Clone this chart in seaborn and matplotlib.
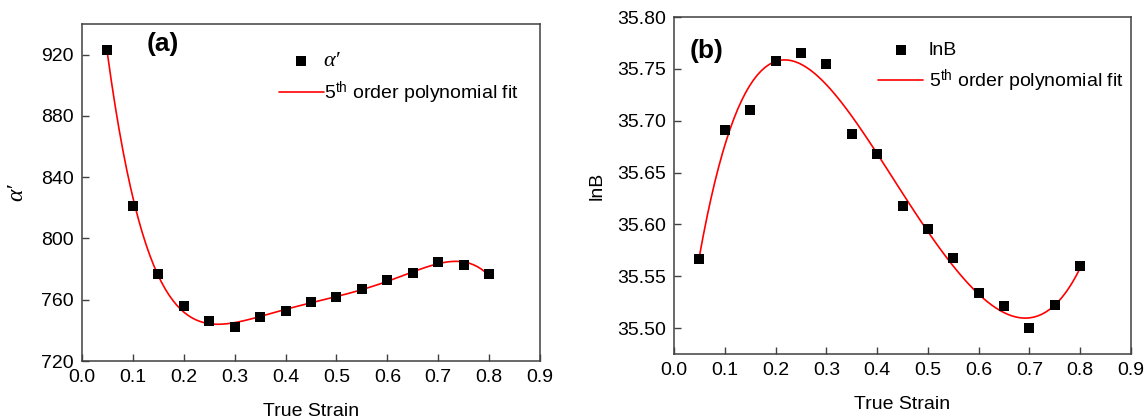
import numpy as np
import pandas as pd
import matplotlib
matplotlib.use("Agg")
import matplotlib.pyplot as plt
import seaborn as sns

strain = [0.05, 0.10, 0.15, 0.20, 0.25, 0.30, 0.35, 0.40, 0.45, 0.50,
          0.55, 0.60, 0.65, 0.70, 0.75, 0.80]
alpha_vals = [923.0, 821.0, 776.7, 756.0, 745.8, 741.9, 749.0, 752.5, 758.4,
              762.1, 767.1, 773.0, 777.6, 784.6, 782.4, 776.7]
lnB_vals = [35.567, 35.691, 35.710, 35.758, 35.765, 35.755, 35.687, 35.6675,
            35.618, 35.596, 35.568, 35.534, 35.521, 35.500, 35.522, 35.560]

x_ticks = [0.0, 0.1, 0.2, 0.3, 0.4, 0.5, 0.6, 0.7, 0.8, 0.9]
a_yticks = [720, 760, 800, 840, 880, 920]
b_yticks = [35.50, 35.55, 35.60, 35.65, 35.70, 35.75, 35.80]

sns.set_theme(style="white")
plt.rcParams['font.family'] = ['Liberation Sans', 'DejaVu Sans']
plt.rcParams['mathtext.fontset'] = 'custom'
plt.rcParams['mathtext.rm'] = 'Liberation Sans'
plt.rcParams['mathtext.it'] = 'Liberation Serif:italic'
plt.rcParams['text.color'] = 'black'
plt.rcParams['axes.labelcolor'] = 'black'

df = pd.DataFrame({"strain": strain, "alpha": alpha_vals, "lnB": lnB_vals})

fig = plt.figure(figsize=(11.48, 4.19), dpi=100)
axA = fig.add_axes([82/1148, 58/419, 458/1148, 337/419])
axB = fig.add_axes([674/1148, 65/419, 457/1148, 337/419])

spine_col = '#404040'
fit_label = r"$5^{\mathrm{th}}$ order polynomial fit"

def style(ax, yt, ylim, yfmt):
    ax.set_xlim(0, 0.9)
    ax.set_ylim(*ylim)
    ax.set_xticks(x_ticks)
    ax.set_xticklabels([f"{v:.1f}" for v in x_ticks])
    ax.set_yticks(yt)
    ax.set_yticklabels([yfmt.format(v) for v in yt])
    for s in ax.spines.values():
        s.set_visible(True)
        s.set_color(spine_col)
        s.set_linewidth(1.1)
    ax.tick_params(axis='both', direction='in', length=5, width=1.0,
                   color=spine_col, labelsize=14, labelcolor='black',
                   bottom=True, left=True, top=False, right=False, pad=6)

for ax, col, lab, yt, ylim, yfmt in [
        (axA, "alpha", "α′", a_yticks, (720, 940), "{:d}"),
        (axB, "lnB", "lnB", b_yticks, (35.475, 35.80), "{:.2f}")]:
    sns.scatterplot(data=df, x="strain", y=col, marker='s', color='black',
                    s=55, edgecolor='black', linewidth=0, label=lab, ax=ax,
                    zorder=3)
    sns.regplot(data=df, x="strain", y=col, order=5, ci=None, scatter=False,
                truncate=True, color='red', ax=ax, label=fit_label,
                line_kws={'linewidth': 1.2, 'zorder': 2})
    style(ax, yt, ylim, yfmt)
    ax.set_xlabel("True Strain", fontsize=14, labelpad=12)

axA.set_ylabel("α′", fontsize=17, family='Liberation Serif', style='italic',
               labelpad=10)
axB.set_ylabel("lnB", fontsize=14, labelpad=8)

legA = axA.legend(loc='upper left', bbox_to_anchor=(0.413, 0.94), frameon=False,
                  fontsize=14, handlelength=2.3, handletextpad=0.0,
                  labelspacing=0.45, borderaxespad=0)
t0 = legA.get_texts()[0]
t0.set_fontfamily('Liberation Serif')
t0.set_fontstyle('italic')
t0.set_fontsize(16)
legB = axB.legend(loc='upper left', bbox_to_anchor=(0.43, 0.95), frameon=False,
                  fontsize=14, handlelength=2.3, handletextpad=0.3,
                  labelspacing=0.45, borderaxespad=0)

axA.text(0.142, 0.94, "(a)", transform=axA.transAxes, fontsize=19,
         fontweight='bold', va='center', ha='left')
axB.text(0.035, 0.90, "(b)", transform=axB.transAxes, fontsize=19,
         fontweight='bold', va='center', ha='left')

fig.savefig("out.png", dpi=100)
